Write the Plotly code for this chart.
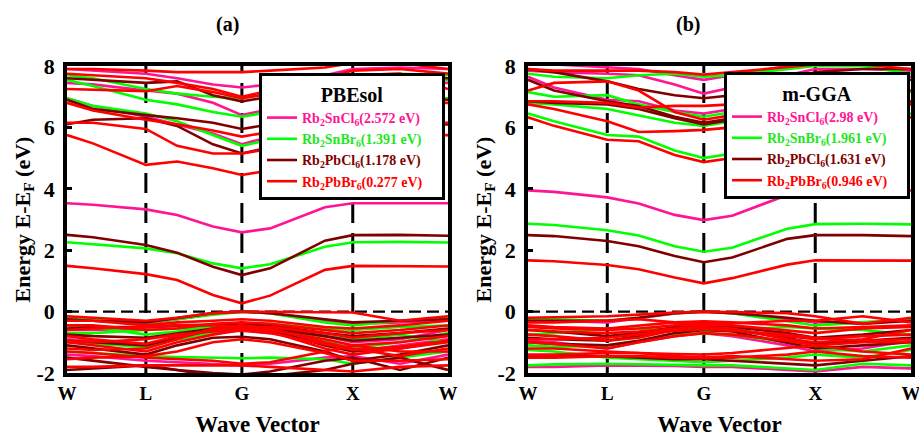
import plotly.graph_objects as go

# ---------------- data ----------------
K = [0, 0.068, 0.207, 0.289, 0.383, 0.459, 0.533, 0.677, 0.750, 0.874, 1.0]
TICK_POS = [0, 0.207, 0.459, 0.750, 1.0]
TICK_LABELS = ["W", "L", "G", "X", "W"]
HSYM_POS = [0.207, 0.459, 0.750]
Y_TICKS = [8, 6, 4, 2, 0, -2]
Y_TICK_LABELS = ["8", "6", "4", "2", "0", "-2"]

MATERIALS = ["Rb<sub>2</sub>SnCl<sub>6</sub>", "Rb<sub>2</sub>SnBr<sub>6</sub>",
             "Rb<sub>2</sub>PbCl<sub>6</sub>", "Rb<sub>2</sub>PbBr<sub>6</sub>"]
LINE_COLORS = ["#ff1493", "#00ff00", "#800000", "#ff0000"]
TEXT_COLORS = ["#ff1493", "#22e622", "#800000", "#ff0000"]
GAPS_PBESOL = ["2.572", "1.391", "1.178", "0.277"]
GAPS_MGGA = ["2.98", "1.961", "1.631", "0.946"]

# PBEsol bands (eV) at K
PBESOL_SNCL6 = [
    [3.53, 3.48, 3.33, 3.15, 2.77, 2.58, 2.71, 3.40, 3.53, 3.54, 3.53],
    [7.45, 7.40, 7.20, 7.10, 6.80, 6.40, 6.60, 7.20, 7.50, 7.50, 7.45],
    [6.95, 6.70, 6.35, 6.10, 5.80, 5.45, 5.70, 6.40, 6.80, 6.90, 6.95],
    [7.90, 7.85, 7.75, 7.60, 7.40, 7.30, 7.40, 7.70, 7.90, 7.95, 7.90],
    [-0.30, -0.30, -0.40, -0.25, -0.08, 0.00, -0.05, -0.30, -0.40, -0.35, -0.30],
    [-0.90, -0.95, -1.10, -0.90, -0.70, -0.60, -0.70, -1.00, -1.30, -1.10, -0.90],
    [-1.40, -1.45, -1.60, -1.65, -1.70, -1.75, -1.70, -1.50, -1.45, -1.70, -1.40],
    [-0.60, -0.60, -0.55, -0.50, -0.48, -0.48, -0.50, -0.80, -1.00, -0.90, -0.60],
]
PBESOL_SNBR6 = [
    [2.26, 2.20, 2.06, 1.90, 1.57, 1.41, 1.54, 2.11, 2.26, 2.27, 2.25],
    [7.70, 7.60, 7.25, 7.10, 7.00, 6.95, 7.10, 7.50, 7.70, 7.75, 7.70],
    [7.55, 7.35, 6.90, 6.75, 6.50, 6.35, 6.50, 7.00, 7.40, 7.50, 7.55],
    [6.95, 6.70, 6.45, 6.20, 5.75, 5.40, 5.60, 6.30, 6.80, 6.90, 6.95],
    [-0.20, -0.22, -0.35, -0.25, -0.10, 0.00, -0.05, -0.35, -0.45, -0.30, -0.20],
    [-0.45, -0.50, -0.75, -0.65, -0.45, -0.38, -0.40, -0.55, -0.60, -0.50, -0.45],
    [-1.00, -1.05, -1.15, -0.90, -0.70, -0.60, -0.65, -0.80, -0.90, -0.75, -1.00],
    [-1.30, -1.35, -1.45, -1.48, -1.50, -1.52, -1.50, -1.55, -1.70, -1.50, -1.30],
    [-0.70, -0.70, -0.60, -0.55, -0.50, -0.50, -0.55, -0.95, -1.20, -1.00, -0.70],
]
PBESOL_PBCL6 = [
    [2.50, 2.42, 2.17, 1.92, 1.46, 1.19, 1.41, 2.31, 2.49, 2.50, 2.47],
    [7.60, 7.55, 7.45, 7.50, 7.05, 6.85, 7.00, 7.50, 7.70, 7.70, 7.60],
    [6.90, 6.60, 6.40, 6.30, 6.15, 5.95, 6.10, 6.60, 6.90, 6.95, 6.90],
    [6.10, 6.25, 6.30, 6.05, 5.45, 5.15, 5.35, 5.90, 6.10, 6.15, 6.10],
    [-0.25, -0.30, -0.35, -0.20, -0.05, 0.00, -0.05, -0.25, -0.35, -0.30, -0.25],
    [-0.75, -0.80, -0.85, -0.70, -0.55, -0.50, -0.55, -0.80, -0.95, -0.85, -0.75],
    [-1.10, -1.20, -1.40, -1.10, -0.85, -0.82, -0.90, -1.30, -1.60, -1.40, -1.10],
    [-1.50, -1.60, -1.80, -1.90, -2.00, -2.05, -1.95, -1.60, -1.50, -1.90, -1.50],
    [-0.55, -0.50, -0.50, -0.45, -0.42, -0.40, -0.45, -0.70, -0.80, -0.70, -0.55],
    [-0.95, -1.00, -1.10, -0.85, -0.60, -0.55, -0.60, -1.10, -1.30, -1.20, -0.95],
    [-1.90, -1.85, -1.75, -1.90, -2.10, -2.20, -2.10, -1.90, -1.70, -1.50, -1.90],
]
PBESOL_PBBR6 = [
    [1.49, 1.41, 1.22, 1.03, 0.54, 0.27, 0.52, 1.36, 1.49, 1.49, 1.47],
    [5.75, 5.48, 4.78, 4.89, 4.67, 4.45, 4.60, 5.30, 5.70, 5.75, 5.75],
    [6.15, 6.15, 5.95, 5.40, 5.15, 5.15, 5.30, 5.90, 6.15, 6.20, 6.15],
    [6.80, 6.55, 6.25, 6.10, 5.90, 5.70, 5.85, 6.40, 6.80, 6.85, 6.80],
    [7.25, 7.22, 7.18, 7.35, 7.15, 6.95, 7.10, 7.50, 7.70, 7.75, 7.25],
    [7.75, 7.70, 7.60, 7.45, 7.25, 7.00, 7.20, 7.60, 7.85, 7.90, 7.75],
    [7.90, 7.90, 7.85, 7.80, 7.80, 7.80, 7.85, 7.95, 8.10, 8.10, 7.90],
    [-0.15, -0.20, -0.30, -0.20, -0.05, 0.00, -0.01, -0.02, -0.03, -0.30, -0.15],
    [-0.30, -0.30, -0.45, -0.35, -0.30, -0.25, -0.30, -0.50, -0.55, -0.45, -0.30],
    [-0.60, -0.55, -0.50, -0.45, -0.45, -0.50, -0.50, -0.70, -0.85, -0.70, -0.60],
    [-0.80, -0.90, -1.05, -0.80, -0.60, -0.55, -0.60, -0.90, -1.10, -1.00, -0.80],
    [-1.00, -1.10, -1.30, -1.00, -0.75, -0.60, -0.65, -1.20, -1.40, -1.20, -1.00],
    [-1.30, -1.35, -1.50, -1.55, -1.60, -1.70, -1.65, -1.30, -1.10, -1.30, -1.30],
    [-1.80, -1.80, -1.75, -1.75, -1.75, -1.75, -1.80, -1.90, -1.95, -1.80, -1.75],
    [-1.20, -1.25, -1.20, -0.90, -0.55, -0.45, -0.55, -1.00, -1.20, -1.45, -1.20],
    [-0.45, -0.45, -0.60, -0.55, -0.40, -0.35, -0.40, -0.60, -0.70, -0.60, -0.45],
    [-1.55, -1.50, -1.45, -1.30, -1.00, -0.90, -1.00, -1.35, -1.60, -1.60, -1.55],
    [-0.95, -1.00, -0.90, -0.75, -0.65, -0.62, -0.70, -1.05, -1.25, -1.15, -0.95],
]

# m-GGA bands (eV) at K
MGGA_SNCL6 = [
    [3.95, 3.90, 3.72, 3.52, 3.15, 2.98, 3.12, 3.80, 3.95, 3.96, 3.95],
    [7.65, 7.30, 6.90, 6.85, 6.55, 6.45, 6.60, 7.10, 7.50, 7.60, 7.65],
    [7.85, 7.80, 7.75, 7.70, 7.40, 7.10, 7.30, 7.70, 7.90, 7.90, 7.85],
    [8.10, 8.05, 7.95, 7.90, 7.70, 7.55, 7.70, 8.00, 8.10, 8.10, 8.10],
    [-0.30, -0.30, -0.35, -0.22, -0.06, 0.00, -0.05, -0.25, -0.35, -0.35, -0.30],
    [-0.95, -1.00, -1.20, -1.00, -0.80, -0.70, -0.80, -1.10, -1.30, -1.20, -0.95],
    [-1.80, -1.80, -1.75, -1.75, -1.77, -1.80, -1.80, -1.90, -1.95, -1.80, -1.85],
]
MGGA_SNBR6 = [
    [2.86, 2.82, 2.65, 2.48, 2.13, 1.95, 2.08, 2.70, 2.85, 2.86, 2.84],
    [6.45, 6.20, 5.75, 5.70, 5.25, 5.00, 5.15, 5.85, 6.30, 6.40, 6.45],
    [7.15, 7.00, 7.05, 6.75, 6.50, 6.35, 6.50, 6.90, 7.20, 7.20, 7.15],
    [6.80, 6.75, 6.60, 6.40, 6.15, 6.05, 6.20, 6.60, 6.80, 6.85, 6.80],
    [7.75, 7.65, 7.60, 7.70, 7.75, 7.65, 7.70, 7.90, 8.00, 8.00, 7.75],
    [-0.25, -0.25, -0.30, -0.20, -0.05, 0.00, -0.05, -0.30, -0.45, -0.35, -0.25],
    [-0.75, -0.70, -0.55, -0.55, -0.60, -0.65, -0.60, -0.50, -0.55, -0.60, -0.75],
    [-1.10, -1.15, -1.10, -0.95, -0.75, -0.70, -0.75, -1.00, -1.20, -1.30, -1.10],
    [-1.75, -1.72, -1.70, -1.72, -1.74, -1.75, -1.75, -1.85, -1.90, -1.70, -1.75],
    [-1.25, -1.30, -1.50, -1.55, -1.60, -1.65, -1.60, -1.50, -1.40, -1.50, -1.25],
]
MGGA_PBCL6 = [
    [2.49, 2.46, 2.30, 2.13, 1.81, 1.61, 1.76, 2.37, 2.49, 2.49, 2.46],
    [7.55, 7.20, 6.85, 6.70, 6.35, 6.15, 6.30, 6.80, 7.20, 7.40, 7.55],
    [7.90, 7.80, 7.50, 7.25, 7.05, 6.95, 7.05, 7.50, 7.80, 7.90, 7.90],
    [6.85, 6.80, 6.75, 6.60, 6.30, 6.10, 6.25, 6.70, 6.90, 6.90, 6.85],
    [-0.30, -0.30, -0.30, -0.20, -0.05, 0.00, -0.05, -0.20, -0.30, -0.40, -0.30],
    [-0.60, -0.65, -0.80, -0.70, -0.50, -0.45, -0.50, -0.70, -0.85, -0.75, -0.60],
    [-1.00, -1.05, -1.10, -0.95, -0.70, -0.60, -0.65, -1.00, -1.20, -1.10, -1.00],
    [-1.45, -1.45, -1.45, -1.50, -1.55, -1.55, -1.60, -1.70, -1.75, -1.60, -1.45],
    [-0.85, -0.90, -0.95, -0.80, -0.60, -0.55, -0.60, -0.85, -1.05, -0.95, -0.85],
]
MGGA_PBBR6 = [
    [1.67, 1.64, 1.52, 1.38, 1.11, 0.92, 1.09, 1.53, 1.67, 1.67, 1.66],
    [6.33, 6.05, 5.60, 5.55, 5.10, 4.87, 5.00, 5.70, 6.20, 6.30, 6.33],
    [6.75, 6.60, 6.20, 5.85, 5.88, 5.92, 6.00, 6.40, 6.70, 6.75, 6.75],
    [6.85, 6.85, 6.80, 6.65, 6.70, 6.70, 6.75, 7.00, 7.20, 7.20, 6.85],
    [7.20, 7.45, 7.50, 7.20, 6.50, 6.25, 6.40, 7.00, 7.40, 7.50, 7.20],
    [7.90, 7.85, 7.85, 7.85, 7.80, 7.72, 7.80, 7.95, 8.05, 8.05, 7.90],
    [-0.20, -0.18, -0.15, -0.10, -0.03, 0.00, -0.01, -0.05, -0.15, -0.40, -0.20],
    [-0.35, -0.35, -0.30, -0.25, -0.35, -0.40, -0.38, -0.30, -0.30, -0.15, -0.35],
    [-0.50, -0.55, -0.60, -0.55, -0.45, -0.42, -0.45, -0.60, -0.70, -0.55, -0.50],
    [-0.75, -0.80, -0.95, -0.85, -0.60, -0.55, -0.60, -0.80, -0.90, -0.80, -0.75],
    [-1.00, -1.05, -1.20, -1.00, -0.80, -0.70, -0.75, -0.95, -1.10, -1.00, -1.00],
    [-1.40, -1.40, -1.35, -1.35, -1.38, -1.40, -1.35, -1.20, -1.10, -1.30, -1.40],
    [-1.20, -1.20, -1.30, -1.35, -1.45, -1.50, -1.45, -1.55, -1.60, -1.55, -1.20],
    [-0.60, -0.65, -0.70, -0.65, -0.55, -0.50, -0.55, -0.90, -1.00, -0.90, -0.60],
    [-0.45, -0.50, -0.55, -0.45, -0.35, -0.32, -0.35, -0.45, -0.55, -0.50, -0.45],
    [-0.90, -0.90, -0.85, -0.75, -0.62, -0.58, -0.62, -0.75, -0.85, -0.95, -0.90],
    [-1.50, -1.50, -1.45, -1.45, -1.50, -1.52, -1.50, -1.40, -1.30, -1.45, -1.50],
]

PANELS = [
    ("PBEsol", GAPS_PBESOL, [PBESOL_SNCL6, PBESOL_SNBR6, PBESOL_PBCL6, PBESOL_PBBR6]),
    ("m-GGA", GAPS_MGGA, [MGGA_SNCL6, MGGA_SNBR6, MGGA_PBCL6, MGGA_PBBR6]),
]

# ---------------- figure ----------------
FONT = "Liberation Serif, Times New Roman, serif"
W, H = 919, 437
PAD = "\u00a0" * 4
fig = go.Figure()

x_domains = [[67 / W, 448 / W], [528 / W, 911 / W]]
y_domain = [(H - 373) / H, (H - 66) / H]

for p, (title, gaps, bands_sets) in enumerate(PANELS):
    xa = "x" if p == 0 else "x2"
    ya = "y" if p == 0 else "y2"
    leg = "legend" if p == 0 else "legend2"
    for m, bands in enumerate(bands_sets):
        name = (f'<span style="color:{TEXT_COLORS[m]}">{MATERIALS[m]}'
                f'({gaps[m]} eV)</span>{PAD}')
        for b, vals in enumerate(bands):
            fig.add_trace(go.Scatter(
                x=K, y=vals, mode="lines", xaxis=xa, yaxis=ya,
                line=dict(color=LINE_COLORS[m], width=2.6),
                name=name, legendgroup=f"{p}-{m}", legend=leg,
                showlegend=(b == 0), hoverinfo="skip"))

    # high-symmetry dashed lines and Fermi level
    for xv in HSYM_POS:
        fig.add_shape(type="line", xref=xa, yref=ya, x0=xv, x1=xv, y0=-2, y1=8,
                      line=dict(color="black", width=3, dash="20px,10px"),
                      layer="below")
    fig.add_shape(type="line", xref=xa, yref=ya, x0=0, x1=1, y0=0, y1=0,
                  line=dict(color="black", width=2.2, dash="12px,6px"),
                  layer="below")

axis_common = dict(showline=True, linecolor="black", linewidth=3.5, mirror=True,
                   showgrid=False, zeroline=False, automargin=False)

for p in range(2):
    sfx = "" if p == 0 else "2"
    fig.update_layout(**{
        f"xaxis{sfx}": dict(axis_common, domain=x_domains[p], range=[0, 1],
                            tickvals=TICK_POS, ticktext=TICK_LABELS, ticks="",
                            ticklabeloverflow="allow", anchor=f"y{sfx}",
                            tickfont=dict(family=FONT, size=19, color="black", weight="bold"),
                            title=dict(text="Wave Vector",
                                       font=dict(family=FONT, size=23, color="black",
                                                 weight="bold"), standoff=14)),
        f"yaxis{sfx}": dict(axis_common, domain=y_domain, range=[-2, 8],
                            tickvals=Y_TICKS, ticktext=Y_TICK_LABELS,
                            ticks="inside", ticklen=5, tickwidth=2.5, tickcolor="black",
                            ticklabelstandoff=4, anchor=f"x{sfx}",
                            tickfont=dict(family=FONT, size=22, color="black", weight="bold"),
                            title=dict(text="Energy E-E<sub>F</sub> (eV)",
                                       font=dict(family=FONT, size=22, color="black",
                                                 weight="bold"), standoff=1)),
    })

legend_common = dict(
    bgcolor="white", bordercolor="black", borderwidth=3,
    font=dict(family=FONT, size=14, color="black", weight="bold"),
    xanchor="left", yanchor="top", xref="paper", yref="paper",
    tracegroupgap=0, itemwidth=30,
)
fig.update_layout(
    legend=dict(legend_common, x=259 / W, y=(H - 73) / H,
                title=dict(text="PBEsol", side="top center",
                           font=dict(family=FONT, size=20, color="black", weight="bold"))),
    legend2=dict(legend_common, x=724 / W, y=(H - 72) / H,
                 title=dict(text="m-GGA", side="top center",
                            font=dict(family=FONT, size=20, color="black", weight="bold"))),
)

for txt, xc in [("(a)", 227), ("(b)", 688)]:
    fig.add_annotation(text=txt, x=xc / W, y=(H - 11) / H, xref="paper", yref="paper",
                       showarrow=False, xanchor="center", yanchor="top",
                       font=dict(family=FONT, size=20, color="black", weight="bold"))

fig.update_layout(
    width=W, height=H, margin=dict(l=0, r=0, t=0, b=0),
    paper_bgcolor="white", plot_bgcolor="white", showlegend=True,
)

fig.write_html("out.html")
